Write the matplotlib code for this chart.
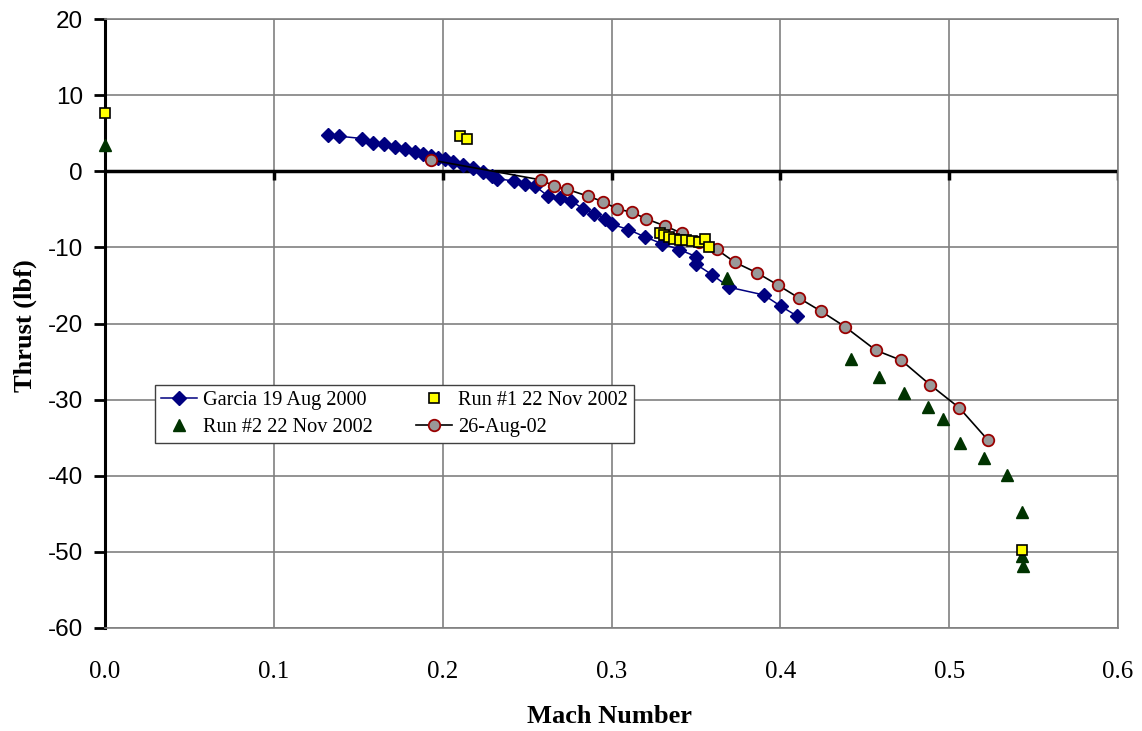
import numpy as np
import matplotlib.pyplot as plt

plt.rcParams['axes.unicode_minus'] = False

# Garcia 19 Aug 2000
garcia_mach = [0.1319, 0.1388, 0.1523, 0.1586, 0.1653, 0.1718, 0.1777, 0.1836, 0.1882, 0.1931,
               0.1975, 0.2016, 0.2060, 0.2119, 0.2178, 0.2237, 0.2294, 0.2324, 0.2425, 0.2488,
               0.2549, 0.2623, 0.2694, 0.2762, 0.2830, 0.2897, 0.2964, 0.3002, 0.3100, 0.3199,
               0.3302, 0.3402, 0.3501, 0.3501, 0.3598, 0.3697, 0.3902, 0.4001, 0.4098]
garcia_thrust = [4.82, 4.60, 4.30, 3.77, 3.55, 3.19, 2.98, 2.54, 2.27, 1.97,
                 1.75, 1.58, 1.27, 0.88, 0.49, -0.04, -0.62, -0.96, -1.31, -1.62,
                 -1.97, -3.25, -3.51, -3.90, -4.90, -5.56, -6.27, -6.96, -7.66, -8.63,
                 -9.55, -10.29, -11.21, -12.22, -13.63, -15.24, -16.25, -17.70, -19.01]

# Run #1 22 Nov 2002
run1_mach = [0.0, 0.2105, 0.2146, 0.3288, 0.3313, 0.3341, 0.3371, 0.3405, 0.3442, 0.3479,
             0.3517, 0.3551, 0.3576, 0.5433]
run1_thrust = [7.7, 4.6, 4.2, -8.06, -8.41, -8.58, -8.89, -9.07, -9.07, -9.2,
               -9.29, -8.94, -9.95, -49.7]

# Run #2 22 Nov 2002
run2_mach = [0.0, 0.3683, 0.4421, 0.4585, 0.4733, 0.4876, 0.4964, 0.5065, 0.5209, 0.5342,
             0.5429, 0.5434, 0.5436]
run2_thrust = [3.5, -14.0, -24.6, -27.0, -29.1, -31.0, -32.6, -35.7, -37.7, -39.9,
               -44.8, -50.6, -51.8]

# 26-Aug-02
aug_mach = [0.1931, 0.2583, 0.2658, 0.2737, 0.2863, 0.2948, 0.3033, 0.3122, 0.3207, 0.3318,
            0.3417, 0.3519, 0.3622, 0.3731, 0.3863, 0.3985, 0.4110, 0.4242, 0.4382, 0.4566,
            0.4717, 0.4886, 0.5061, 0.5231]
aug_thrust = [1.48, -1.14, -1.93, -2.37, -3.29, -3.98, -4.95, -5.39, -6.27, -7.19,
              -8.15, -9.29, -10.25, -11.96, -13.36, -14.94, -16.65, -18.40, -20.41, -23.52,
              -24.84, -28.03, -31.10, -35.35]

x_ticks = [0.0, 0.1, 0.2, 0.3, 0.4, 0.5, 0.6]
y_ticks = [20, 10, 0, -10, -20, -30, -40, -50, -60]

fig = plt.figure(figsize=(11.42, 7.31), dpi=100)
ax = fig.add_axes([105 / 1142, 1 - 628 / 731, 1013 / 1142, 609 / 731])

ax.set_xlim(0, 0.6)
ax.set_ylim(-60, 20)
ax.set_xticks(x_ticks)
ax.set_xticklabels([f"{t:.1f}" for t in x_ticks])
ax.set_yticks(y_ticks)
ax.grid(True, color='#808080', lw=1.2)
ax.set_axisbelow(True)

for side in ['top', 'right', 'bottom']:
    ax.spines[side].set_color('#808080')
    ax.spines[side].set_linewidth(1.2)
ax.spines['left'].set_linewidth(2.2)
ax.spines['left'].set_color('black')

# thick zero line with tick marks, like the Excel category axis
ax.axhline(0, color='black', lw=2.5, zorder=2)
ax.vlines(x_ticks[1:], -1.2, 0, color='black', lw=2.5, zorder=2)

serif = 'Liberation Serif'
ax.tick_params(axis='x', length=0, pad=24, labelsize=18)
ax.tick_params(axis='y', length=8, width=2, direction='out', labelsize=17.5, pad=8)
for lab in ax.get_xticklabels():
    lab.set_family(serif)
for lab in ax.get_yticklabels():
    lab.set_family('Liberation Sans')

ax.plot(garcia_mach, garcia_thrust, color='#000080', lw=1.1, marker='D', ms=6.8,
        mfc='#000080', mec='#000080', label='Garcia 19 Aug 2000', zorder=3)
ax.plot(run2_mach, run2_thrust, ls='none', marker='^', ms=8, mfc='#003300',
        mec='#003300', label='Run #2 22 Nov 2002', zorder=4, clip_on=False)
ax.plot(run1_mach, run1_thrust, ls='none', marker='s', ms=7.2, mfc='#FFFF00',
        mec='black', mew=1.2, label='Run #1 22 Nov 2002', zorder=5, clip_on=False)
ax.plot(aug_mach, aug_thrust, color='black', lw=1.2, marker='o', ms=8.3, mfc='#999999',
        mec='#990000', mew=1.3, label='26-Aug-02', zorder=4)

ax.set_xlabel('Mach Number', family=serif, weight='bold', fontsize=19)
ax.set_ylabel('Thrust (lbf)', family=serif, weight='bold', fontsize=19)
ax.xaxis.set_label_coords(0.4985, -0.126)
ax.yaxis.set_label_coords(-0.067, 0.497)

leg = ax.legend(loc='upper left', bbox_to_anchor=(0.049, 0.399), ncol=2,
                prop={'family': serif, 'size': 14.6}, frameon=True, fancybox=False,
                edgecolor='#404040', framealpha=1, borderaxespad=0,
                handlelength=1.8, handletextpad=0.3, columnspacing=2.1,
                labelspacing=0.38, borderpad=0.3)
leg.get_frame().set_linewidth(1.0)

fig.savefig('out.png', dpi=100, facecolor='w')
